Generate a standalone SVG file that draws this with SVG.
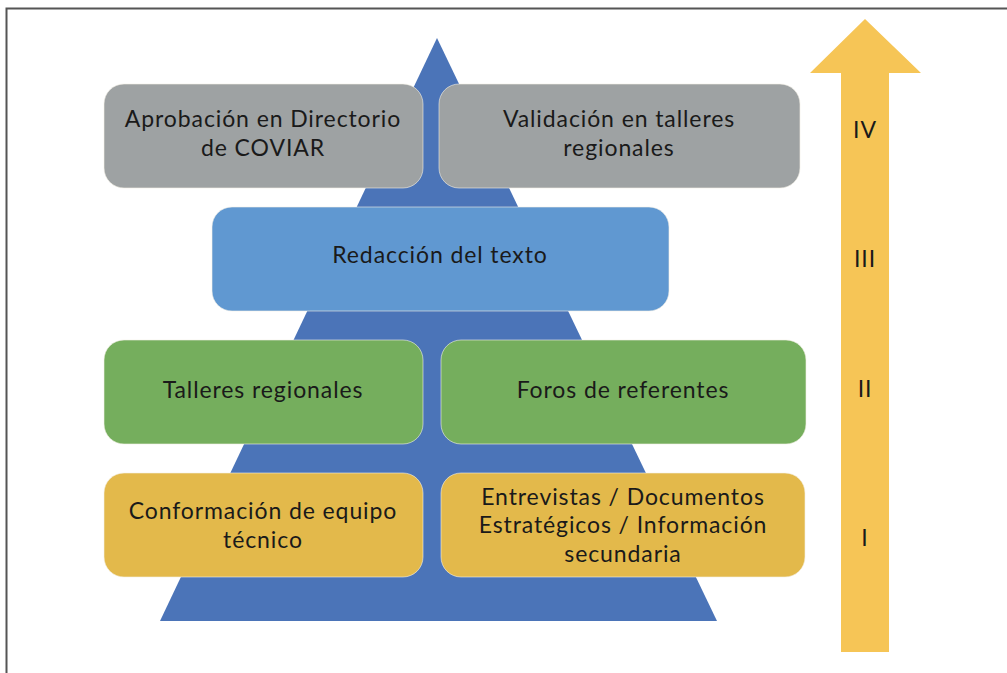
<svg xmlns="http://www.w3.org/2000/svg" width="1007" height="673" viewBox="0 0 1007 673">
<style>
.box{stroke:#f4f0e6;stroke-width:1;stroke-opacity:0.6}
.t{font-family:Lato,"Noto Sans",sans-serif;font-size:23px;letter-spacing:0.9px;fill:#1a1a1a;text-anchor:middle}
.gray{fill:#9ea2a3}
.blue{fill:#6098d1}
.green{fill:#75ae5d}
.yellow{fill:#e3b94b}
</style>
<rect width="1007" height="673" fill="#ffffff"/>
<path d="M6.5 673 V8.5 H1007" fill="none" stroke="#555" stroke-width="2"/>
<g id="pyramid"><polygon points="437,38 717,621 160,621" fill="#4b74b8"/></g>
<g id="arrow"><polygon points="865,19 921,73 889,73 889,652 841,652 841,73 810,73" fill="#f6c556"/>
<text class="t" x="865" y="138">IV</text>
<text class="t" x="865" y="267">III</text>
<text class="t" x="865" y="397">II</text>
<text class="t" x="865" y="546">I</text>
</g>
<g id="n-aprobacion"><rect class="box gray" x="104" y="84" width="319" height="104" rx="20"/>
<text class="t" x="263" y="127">Aprobación en Directorio</text><text class="t" x="263" y="156">de COVIAR</text></g>
<g id="n-validacion"><rect class="box gray" x="439" y="84" width="361" height="104" rx="20"/>
<text class="t" x="619" y="127">Validación en talleres</text><text class="t" x="619" y="156">regionales</text></g>
<g id="n-redaccion"><rect class="box blue" x="212" y="207" width="457" height="104" rx="20"/>
<text class="t" x="440" y="263">Redacción del texto</text></g>
<g id="n-talleres"><rect class="box green" x="104" y="340" width="319" height="104" rx="20"/>
<text class="t" x="263" y="398">Talleres regionales</text></g>
<g id="n-foros"><rect class="box green" x="441" y="340" width="365" height="104" rx="20"/>
<text class="t" x="623" y="398">Foros de referentes</text></g>
<g id="n-conformacion"><rect class="box yellow" x="104" y="473" width="319" height="104" rx="20"/>
<text class="t" x="263" y="519">Conformación de equipo</text><text class="t" x="263" y="548">técnico</text></g>
<g id="n-entrevistas"><rect class="box yellow" x="441" y="473" width="364" height="104" rx="20"/>
<text class="t" x="623" y="505">Entrevistas / Documentos</text><text class="t" x="623" y="533">Estratégicos / Información</text><text class="t" x="623" y="562">secundaria</text></g>
<g id="connectors"></g>
</svg>
